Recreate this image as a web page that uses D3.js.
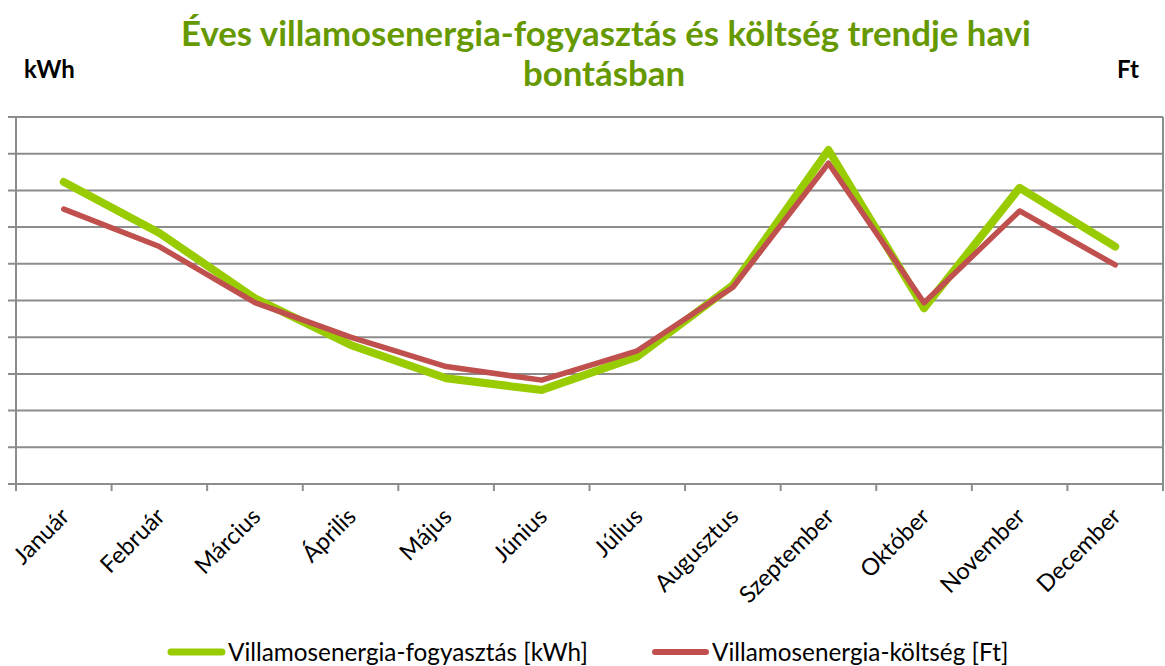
<!DOCTYPE html>
<html>
<head>
<meta charset="utf-8">
<script src="https://cdn.jsdelivr.net/npm/d3@7"></script>
<style>
  html, body { margin: 0; padding: 0; background: #fff; }
  svg { display: block; }
</style>
</head>
<body>
<svg id="chart" width="1165" height="666"></svg>
<script>
const months = ["Január", "Február", "Március", "Április", "Május", "Június",
  "Július", "Augusztus", "Szeptember", "Október", "November", "December"];
const consumption = [8.23, 6.84, 5.06, 3.79, 2.88, 2.56, 3.47, 5.42, 9.10, 4.79, 8.07, 6.47];
const cost = [7.49, 6.47, 4.94, 4.00, 3.20, 2.83, 3.63, 5.36, 8.74, 4.94, 7.44, 5.97];
const yTicks = [0, 1, 2, 3, 4, 5, 6, 7, 8, 9, 10];
const titleLines = ["Éves villamosenergia-fogyasztás és költség trendje havi", "bontásban"];
const seriesNames = ["Villamosenergia-fogyasztás [kWh]", "Villamosenergia-költség [Ft]"];
const leftUnit = "kWh";
const rightUnit = "Ft";

const FONT = "Lato, 'Open Sans', sans-serif";
const svg = d3.select("#chart");
const plot = { left: 16, right: 1163, top: 117, bottom: 484 };

const x = d3.scaleBand().domain(months).range([plot.left, plot.right]).padding(0);
const y = d3.scaleLinear().domain([0, 10]).range([plot.bottom, plot.top]);

// gridlines + left ticks
svg.append("g").selectAll("line").data(yTicks).join("line")
  .attr("x1", plot.left - 8).attr("x2", plot.right)
  .attr("y1", d => y(d)).attr("y2", d => y(d))
  .attr("stroke", "#8c8c8c").attr("stroke-width", 2);

// axes lines
svg.append("line").attr("x1", plot.left).attr("x2", plot.left)
  .attr("y1", plot.top).attr("y2", plot.bottom + 7)
  .attr("stroke", "#8c8c8c").attr("stroke-width", 2);
svg.append("line").attr("x1", plot.right).attr("x2", plot.right)
  .attr("y1", plot.top).attr("y2", plot.bottom + 7)
  .attr("stroke", "#8c8c8c").attr("stroke-width", 2);

// bottom ticks at category boundaries
const bounds = months.map(m => x(m)).concat([x.range()[1]]);
svg.append("g").selectAll("line").data(bounds).join("line")
  .attr("x1", d => d).attr("x2", d => d)
  .attr("y1", plot.bottom).attr("y2", plot.bottom + 7)
  .attr("stroke", "#8c8c8c").attr("stroke-width", 2);

// category labels
svg.append("g").selectAll("text").data(months).join("text")
  .attr("transform", d => `translate(${x(d) + x.bandwidth() / 2 + 7},${plot.bottom + 34}) rotate(-45)`)
  .attr("text-anchor", "end")
  .attr("font-family", FONT).attr("font-size", 23.5).attr("fill", "#000")
  .text(d => d);

// lines
const line = d3.line().x((d, i) => x(months[i]) + x.bandwidth() / 2).y(d => y(d));
svg.append("path").datum(consumption).attr("d", line)
  .attr("fill", "none").attr("stroke", "#99cc00").attr("stroke-width", 8)
  .attr("stroke-linejoin", "round").attr("stroke-linecap", "round");
svg.append("path").datum(cost).attr("d", line)
  .attr("fill", "none").attr("stroke", "#c0504d").attr("stroke-width", 5.5)
  .attr("stroke-linejoin", "round").attr("stroke-linecap", "round");

// title
svg.append("text").attr("x", 606).attr("y", 46).attr("text-anchor", "middle")
  .attr("font-family", FONT).attr("font-weight", "bold").attr("font-size", 34.8)
  .attr("fill", "#669900").text(titleLines[0]);
svg.append("text").attr("x", 604).attr("y", 86).attr("text-anchor", "middle")
  .attr("font-family", FONT).attr("font-weight", "bold").attr("font-size", 34.8)
  .attr("fill", "#669900").text(titleLines[1]);

// units
svg.append("text").attr("x", 24).attr("y", 78)
  .attr("font-family", FONT).attr("font-weight", "bold").attr("font-size", 24)
  .attr("fill", "#000").text(leftUnit);
svg.append("text").attr("x", 1117).attr("y", 78)
  .attr("font-family", FONT).attr("font-weight", "bold").attr("font-size", 24)
  .attr("fill", "#000").text(rightUnit);

// legend
const legend = [
  { name: seriesNames[0], color: "#99cc00", x0: 168, w: 7 },
  { name: seriesNames[1], color: "#c0504d", x0: 652, w: 6 }
];
const lg = svg.append("g").selectAll("g").data(legend).join("g")
  .attr("transform", d => `translate(${d.x0},652)`);
lg.append("line").attr("x1", 3).attr("x2", 54).attr("y1", 0).attr("y2", 0)
  .attr("stroke", d => d.color).attr("stroke-width", d => d.w).attr("stroke-linecap", "round");
lg.append("text").attr("x", 60).attr("y", 9)
  .attr("font-family", FONT).attr("font-size", 24.3).attr("fill", "#000")
  .text(d => d.name);
</script>
</body>
</html>
